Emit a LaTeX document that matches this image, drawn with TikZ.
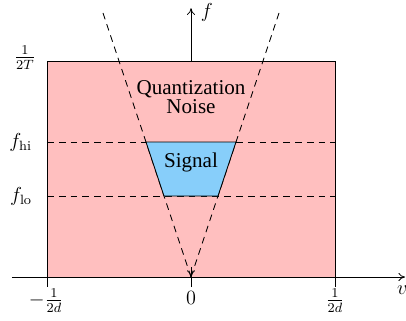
\documentclass[tikz,border=0pt]{standalone}
\usepackage{fontspec}
\usetikzlibrary{arrows.meta,positioning}
\usepackage{xcolor}
\newfontfamily\regionfont{Liberation Serif}
\definecolor{noisepink}{HTML}{FFBFBF}
\definecolor{signalblue}{HTML}{87CEFA}

\begin{document}
\begin{tikzpicture}[
    font=\fontsize{12}{9.5}\selectfont,
    >={To[length=1.4mm,width=1.7mm]},
    axis/.style={->, line width=0.5pt},
    band/.style={dash pattern=on 4pt off 3pt, line width=0.5pt},
    tick/.style={line width=0.5pt},
    region/.style={font=\regionfont\fontsize{12.5}{9.6}\selectfont, inner sep=0pt},
    ticklabel/.style={anchor=center, inner sep=1pt},
]
\useasboundingbox (-3.979,-0.896) rectangle (4.479,5.771);

% Axes
\coordinate (origin) at (0,0);
\coordinate (vend) at (4.46,0);
\coordinate (fend) at (0,5.6);
\draw[axis] (-3.73,0) -- (vend);
\draw[axis] (0,-0.21) -- (fend);

% Noise region
\draw[line width=0.5pt, fill=noisepink] (-3,0) rectangle (3,4.5);
\draw[axis] (0,0.2) -- (origin);

% Band limits
\draw[band] (-3,2.8125) coordinate (hi) -- (3,2.8125);
\draw[band] (-3,1.6875) coordinate (lo) -- (3,1.6875);
\draw[band] (origin) -- (-1.85,5.55) coordinate (vleft);
\draw[band] (origin) -- (1.85,5.55) coordinate (vright);

% Signal region
\draw[line width=0.5pt, fill=signalblue]
    (-0.9375,2.8125) -- (0.9375,2.8125) -- (0.5625,1.6875) -- (-0.5625,1.6875) -- cycle;
\node[region, anchor=base] (signal) at (0,2.29) {Signal};
\node[region, align=center, anchor=base] (noise) at (0,3.40) {Quantization\\Noise};

% Ticks
\draw[tick] (-3,0) -- (-3,-0.21) coordinate (tl);
\draw[tick] (3,0) -- (3,-0.21) coordinate (tr);

% Labels
\node[ticklabel] (lleft) at (-3.02,-0.49) {$-\frac{1}{2d}$};
\node[ticklabel] (lzero) at (0,-0.44) {$0$};
\node[ticklabel] (lright) at (3,-0.49) {$\frac{1}{2d}$};
\node[ticklabel] (vlab) at (4.40,-0.27) {$v$};
\node[ticklabel] (flab) at (0.33,5.52) {$f$};
\node[ticklabel] (ftop) at (-3.46,4.58) {$\frac{1}{2T}$};
\node[ticklabel, anchor=east] (fhi) at (-3.27,2.8125) {$f_{\mathrm{hi}}$};
\node[ticklabel, anchor=east] (flo) at (-3.27,1.6875) {$f_{\mathrm{lo}}$};

\end{tikzpicture}
\end{document}
